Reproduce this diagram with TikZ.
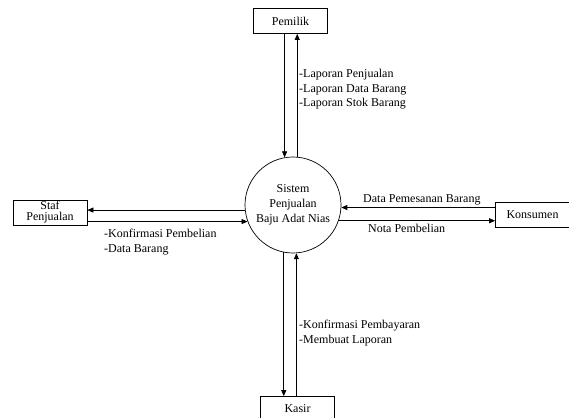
\documentclass[tikz,border=0pt]{standalone}
\usepackage{fontspec}
\setmainfont{Liberation Serif}
\usetikzlibrary{arrows.meta}
\begin{document}
\begin{tikzpicture}[x=1pt,y=-1pt,
  font=\fontsize{12}{14.5}\selectfont,
  entity/.style={draw,line width=0.7pt,minimum width=74pt,minimum height=25pt,inner sep=1pt,align=center},
  flow/.style={line width=0.7pt,-{Triangle[length=6pt,width=5pt]}},
  lbl/.style={inner sep=0pt,align=left,anchor=north west}]
\useasboundingbox (0,0) rectangle (569,417);

% process and external entities
\node[draw,circle,line width=0.7pt,minimum size=96pt,inner sep=0pt,align=center,font=\fontsize{12}{15}\selectfont] (sys) at (293,205) {Sistem\\Penjualan\\Baju Adat Nias};
\node[entity] (pem) at (290.5,21) {Pemilik};
\node[entity,font=\fontsize{12}{11}\selectfont] (staf) at (50,212.5) {Staf\\Penjualan};
\node[entity] (kons) at (532.5,214.5) {Konsumen};
\node[entity] (kas) at (297.5,409) {Kasir};

% Pemilik
\draw[flow] (pem.south -| sys.100.8) -- (sys.100.8);
\draw[flow] (sys.85.2) -- (sys.85.2 |- pem.south);
\node[lbl] (lpem) at (299,69) {-Laporan Penjualan\\-Laporan Data Barang\\-Laporan Stok Barang};

% Staf Penjualan
\draw[flow] (sys.186) -- (sys.186 -| staf.east);
\draw[flow] (staf.east |- sys.200.7) -- (sys.200.7);
\node[lbl,font=\fontsize{12}{15}\selectfont] (lstaf) at (104,229) {-Konfirmasi Pembelian\\-Data Barang};

% Konsumen
\draw[flow] (kons.west |- sys.357.6) -- (sys.357.6);
\draw[flow] (sys.341.8) -- (sys.341.8 -| kons.west);
\node[lbl] (lk1) at (363,194) {Data Pemesanan Barang};
\node[lbl] (lk2) at (368,224) {Nota Pembelian};

% Kasir
\draw[flow] (sys.259.2) -- (sys.259.2 |- kas.north);
\draw[flow] (kas.north -| sys.274.8) -- (sys.274.8);
\node[lbl] (lkas) at (299,320) {-Konfirmasi Pembayaran\\-Membuat Laporan};
\end{tikzpicture}
\end{document}
